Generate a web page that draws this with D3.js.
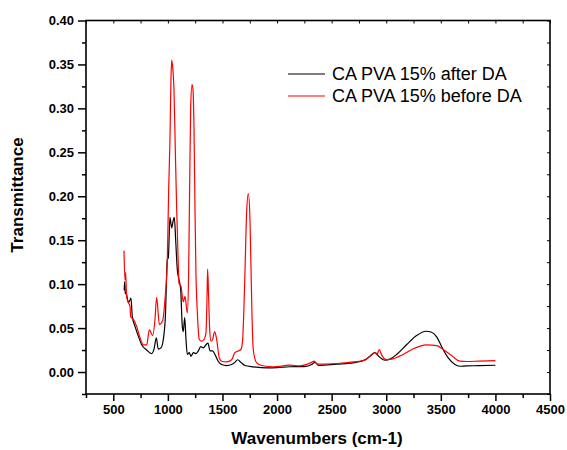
<!DOCTYPE html>
<html>
<head>
<meta charset="utf-8">
<script src="https://cdn.jsdelivr.net/npm/d3@7"></script>
<style>
  html, body { margin: 0; padding: 0; background: #fff; }
  svg { display: block; }
  text { font-family: "Liberation Sans", Arial, sans-serif; }
</style>
</head>
<body>
<svg id="chart" width="567" height="450"></svg>
<script>
// ---- Data ----
const seriesNames = ["CA PVA 15% after DA", "CA PVA 15% before DA"];
const seriesColors = ["#000000", "#ff0000"];

// wavenumber (cm-1) and transmittance, "after DA" (black)
const afterWave = [600, 604, 610, 622, 638, 653, 662, 674, 699, 729, 760, 806, 851, 873, 894, 912, 937, 958, 977, 995, 1004, 1019, 1035, 1050, 1059, 1071, 1086, 1102, 1117, 1132, 1141, 1154, 1166, 1178, 1196, 1212, 1233, 1257, 1279, 1300, 1325, 1349, 1367, 1386, 1410, 1431, 1462, 1492, 1538, 1584, 1614, 1639, 1669, 1706, 1782, 1905, 2000, 2118, 2250, 2317, 2347, 2380, 2546, 2698, 2805, 2851, 2897, 2930, 2988, 3040, 3095, 3186, 3278, 3364, 3410, 3462, 3507, 3568, 3629, 3675, 3736, 3850, 4000];
const afterVal  = [0.093, 0.103, 0.090, 0.088, 0.079, 0.082, 0.084, 0.063, 0.052, 0.041, 0.031, 0.025, 0.021, 0.026, 0.039, 0.026, 0.0275, 0.037, 0.063, 0.128, 0.130, 0.176, 0.164, 0.173, 0.176, 0.151, 0.117, 0.105, 0.094, 0.052, 0.046, 0.062, 0.037, 0.020, 0.022, 0.018, 0.022, 0.021, 0.024, 0.029, 0.0275, 0.031, 0.033, 0.024, 0.024, 0.020, 0.012, 0.0085, 0.0074, 0.0085, 0.011, 0.014, 0.011, 0.0074, 0.0059, 0.0047, 0.005, 0.006, 0.0062, 0.0085, 0.011, 0.0075, 0.009, 0.0105, 0.014, 0.018, 0.022, 0.018, 0.0134, 0.015, 0.020, 0.031, 0.0415, 0.0464, 0.0455, 0.040, 0.029, 0.016, 0.0085, 0.0066, 0.007, 0.0072, 0.0077];

// wavenumber (cm-1) and transmittance, "before DA" (red)
const beforeWave = [598, 607, 613, 622, 638, 653, 659, 684, 714, 745, 775, 806, 830, 861, 882, 897, 922, 952, 973, 995, 1007, 1019, 1028, 1035, 1044, 1056, 1068, 1080, 1093, 1102, 1120, 1141, 1157, 1178, 1190, 1199, 1209, 1221, 1230, 1239, 1248, 1257, 1270, 1288, 1309, 1331, 1349, 1358, 1364, 1373, 1383, 1395, 1410, 1428, 1447, 1471, 1492, 1538, 1584, 1614, 1645, 1669, 1685, 1697, 1706, 1721, 1737, 1752, 1761, 1770, 1782, 1813, 1859, 1966, 2118, 2200, 2317, 2340, 2370, 2546, 2698, 2805, 2851, 2897, 2915, 2936, 2960, 3003, 3060, 3156, 3247, 3370, 3462, 3522, 3599, 3675, 3736, 3850, 4000];
const beforeVal  = [0.138, 0.105, 0.113, 0.086, 0.079, 0.075, 0.063, 0.060, 0.052, 0.039, 0.031, 0.031, 0.048, 0.0415, 0.060, 0.085, 0.054, 0.0585, 0.082, 0.128, 0.207, 0.264, 0.332, 0.355, 0.347, 0.321, 0.253, 0.188, 0.132, 0.101, 0.0975, 0.080, 0.086, 0.067, 0.113, 0.207, 0.302, 0.327, 0.321, 0.279, 0.188, 0.113, 0.067, 0.037, 0.035, 0.037, 0.0445, 0.082, 0.117, 0.086, 0.048, 0.035, 0.037, 0.046, 0.037, 0.016, 0.0123, 0.0115, 0.014, 0.022, 0.024, 0.0256, 0.037, 0.075, 0.113, 0.181, 0.203, 0.173, 0.120, 0.067, 0.0256, 0.0104, 0.0074, 0.0059, 0.0078, 0.007, 0.011, 0.0125, 0.009, 0.0097, 0.0115, 0.0134, 0.018, 0.0225, 0.020, 0.0256, 0.019, 0.0142, 0.015, 0.020, 0.0264, 0.031, 0.030, 0.0256, 0.0188, 0.0123, 0.012, 0.0125, 0.013];

const xTicks = [500, 1000, 1500, 2000, 2500, 3000, 3500, 4000, 4500];
const yTicks = [0.00, 0.05, 0.10, 0.15, 0.20, 0.25, 0.30, 0.35, 0.40];
const xTitle = "Wavenumbers (cm-1)";
const yTitle = "Transmittance";

// ---- Layout ----
const svg = d3.select("#chart");
const L = 86, R = 550, T = 20.5, B = 394;
const x = d3.scaleLinear().domain([250, 4500]).range([L, R]);
const y = d3.scaleLinear().domain([-0.025, 0.40]).range([B, T]);

const font = '"Liberation Sans", Arial, sans-serif';

// minor ticks
const xMinor = d3.range(250, 4501, 250).filter(v => !xTicks.includes(v));
const yMinor = d3.range(-0.025, 0.401, 0.05).map(v => +v.toFixed(3));

// Bottom axis (outward)
const gx = svg.append("g").attr("transform", `translate(0,${B})`)
  .call(d3.axisBottom(x).tickValues(xTicks).tickSize(7).tickPadding(4).tickFormat(d3.format("d")));
gx.select(".domain").remove();
gx.selectAll("line").attr("stroke", "#000").attr("stroke-width", 1.5);
gx.selectAll("text").attr("font-family", font).attr("font-weight", "bold").attr("font-size", 13).attr("fill", "#000");
svg.append("g").attr("transform", `translate(0,${B})`)
  .call(d3.axisBottom(x).tickValues(xMinor).tickSize(4).tickFormat(""))
  .call(g => g.select(".domain").remove())
  .selectAll("line").attr("stroke", "#000").attr("stroke-width", 1.5);

// Left axis (outward)
const gy = svg.append("g").attr("transform", `translate(${L},0)`)
  .call(d3.axisLeft(y).tickValues(yTicks).tickSize(8).tickPadding(4).tickFormat(d3.format(".2f")));
gy.select(".domain").remove();
gy.selectAll("line").attr("stroke", "#000").attr("stroke-width", 1.5);
gy.selectAll("text").attr("font-family", font).attr("font-weight", "bold").attr("font-size", 13).attr("fill", "#000");
svg.append("g").attr("transform", `translate(${L},0)`)
  .call(d3.axisLeft(y).tickValues(yMinor).tickSize(4).tickFormat(""))
  .call(g => g.select(".domain").remove())
  .selectAll("line").attr("stroke", "#000").attr("stroke-width", 1.5);

// Top axis (inward)
svg.append("g").attr("transform", `translate(0,${T})`)
  .call(d3.axisBottom(x).tickValues(d3.range(250, 4501, 250)).tickSize(3).tickFormat(""))
  .call(g => g.select(".domain").remove())
  .selectAll("line").attr("stroke", "#000").attr("stroke-width", 1);

// Right axis (inward)
svg.append("g").attr("transform", `translate(${R},0)`)
  .call(d3.axisLeft(y).tickValues(yMinor.concat(yTicks)).tickSize(3).tickFormat(""))
  .call(g => g.select(".domain").remove())
  .selectAll("line").attr("stroke", "#000").attr("stroke-width", 1);

// Frame
svg.append("rect").attr("x", L).attr("y", T).attr("width", R - L).attr("height", B - T)
  .attr("fill", "none").attr("stroke", "#000").attr("stroke-width", 1.6);

// Series
const line = d3.line().x(d => x(d[0])).y(d => y(d[1])).curve(d3.curveMonotoneX);
const series = [
  { data: afterWave.map((w, i) => [w, afterVal[i]]), color: seriesColors[0] },
  { data: beforeWave.map((w, i) => [w, beforeVal[i]]), color: seriesColors[1] }
];
svg.append("path").datum(series[0].data).attr("d", line)
  .attr("fill", "none").attr("stroke", series[0].color).attr("stroke-width", 1.2);
svg.append("path").datum(series[1].data).attr("d", line)
  .attr("fill", "none").attr("stroke", series[1].color).attr("stroke-width", 1.2);

// Axis titles
svg.append("text").attr("x", 317).attr("y", 444).attr("text-anchor", "middle")
  .attr("font-family", font).attr("font-weight", "bold").attr("font-size", 17).text(xTitle);
svg.append("text").attr("transform", "translate(23,195) rotate(-90)").attr("text-anchor", "middle")
  .attr("font-family", font).attr("font-weight", "bold").attr("font-size", 17).text(yTitle);

// Legend
const legY = [74, 96];
seriesNames.forEach((name, i) => {
  svg.append("line").attr("x1", 288).attr("x2", 325).attr("y1", legY[i]).attr("y2", legY[i])
    .attr("stroke", seriesColors[i]).attr("stroke-width", 1.2);
  svg.append("text").attr("x", 332).attr("y", legY[i] + 6).attr("font-family", font)
    .attr("font-size", 18).attr("fill", "#000").text(name);
});
</script>
</body>
</html>
